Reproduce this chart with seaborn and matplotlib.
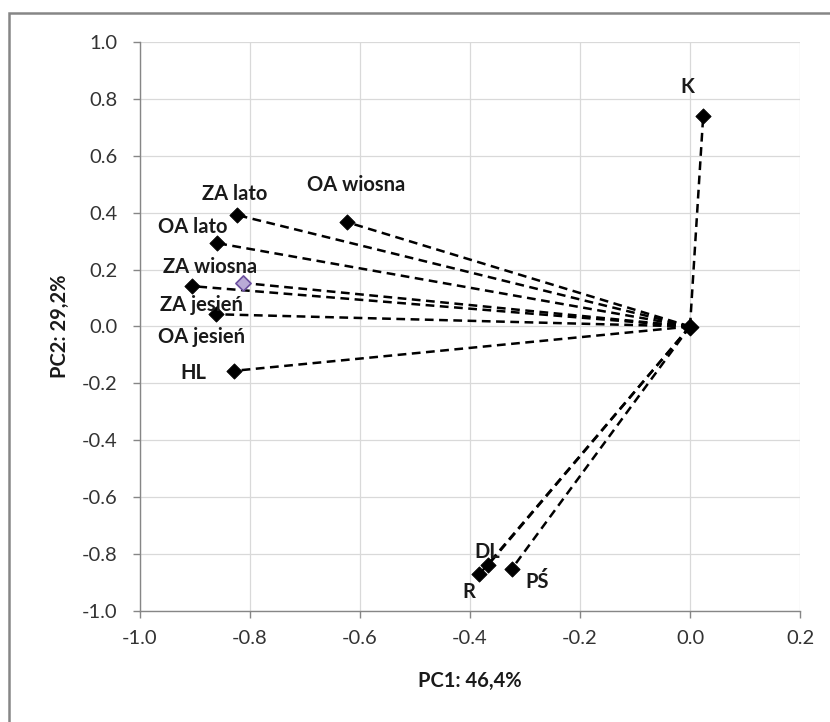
import matplotlib
matplotlib.use("Agg")
import matplotlib.pyplot as plt
import matplotlib.ticker as mticker
from matplotlib.patches import Rectangle
import pandas as pd
import seaborn as sns

# ------------------------------
# Loadings
# ------------------------------
labels = ["K", "OA wiosna", "ZA lato", "OA lato", "ZA wiosna", "ZA jesień",
          "OA jesień", "HL", "DL", "R", "PŚ"]
pc1 = [0.024, -0.624, -0.824, -0.860, -0.812, -0.906, -0.861, -0.830, -0.367, -0.383, -0.324]
pc2 = [0.740, 0.367, 0.392, 0.293, 0.153, 0.142, 0.043, -0.156, -0.838, -0.871, -0.852]

df = pd.DataFrame({"label": labels, "pc1": pc1, "pc2": pc2})

# label offsets in pixels (dx, dy)
offsets = {
    "K": (-16, 29), "OA wiosna": (9, 37), "ZA lato": (-2, 21), "OA lato": (-24, 16),
    "ZA wiosna": (-33, 16), "ZA jesień": (10, -19), "OA jesień": (-15, -23),
    "HL": (-40, -2), "DL": (-1, 13), "R": (-11, -18), "PŚ": (25, -13),
}

# ------------------------------
# Style
# ------------------------------
sns.set_theme(style="whitegrid")
plt.rcParams["font.family"] = ["Lato", "DejaVu Sans"]
plt.rcParams["axes.unicode_minus"] = False

fig = plt.figure(figsize=(8.3, 7.22), dpi=100)
ax = fig.add_axes([140 / 830, 1 - 611 / 722, 660 / 830, 569 / 722])
ax.set_facecolor("white")

# dashed lines from origin
for _, row in df.iterrows():
    ax.plot([0, row.pc1], [0, row.pc2], color="black", ls=(0, (3.5, 2.2)),
            lw=1.8, zorder=2)

# points
df["kind"] = ["sel" if l == "ZA wiosna" else "pt" for l in df.label]
sns.scatterplot(data=df[df.kind == "pt"], x="pc1", y="pc2", marker="D", s=60,
                color="black", edgecolor="black", ax=ax, zorder=3, legend=False)
sns.scatterplot(data=df[df.kind == "sel"], x="pc1", y="pc2", marker="D", s=60,
                color="#b9aad6", edgecolor="#6b4f9e", linewidth=1.2, ax=ax,
                zorder=3, legend=False)
ax.scatter([0], [0], marker="D", s=70, color="black", zorder=3)

for _, row in df.iterrows():
    dx, dy = offsets[row.label]
    ax.annotate(row.label, (row.pc1, row.pc2), xytext=(dx, dy),
                textcoords="offset pixels", ha="center", va="center",
                fontsize=14.5, fontweight="bold", color="#1a1a1a", zorder=4)

# ------------------------------
# Axes
# ------------------------------
ax.set_xlim(-1.0, 0.2)
ax.set_ylim(-1.0, 1.0)
ax.xaxis.set_major_locator(mticker.MultipleLocator(0.2))
ax.yaxis.set_major_locator(mticker.MultipleLocator(0.2))
ax.xaxis.set_major_formatter(mticker.FormatStrFormatter("%.1f"))
ax.yaxis.set_major_formatter(mticker.FormatStrFormatter("%.1f"))
ax.grid(True, color="#d9d9d9", lw=0.9)
for s in ["top", "right"]:
    ax.spines[s].set_visible(False)
for s in ["left", "bottom"]:
    ax.spines[s].set_visible(True)
    ax.spines[s].set_color("#868686")
    ax.spines[s].set_linewidth(1.0)
ax.tick_params(axis="both", which="major", direction="out", length=5, width=1,
               color="#868686", labelsize=14.5, labelcolor="#333333",
               bottom=True, left=True)
ax.tick_params(axis="y", pad=11)
ax.tick_params(axis="x", pad=9)
ax.set_xlabel("PC1: 46,4%", fontsize=14.5, fontweight="bold", color="#1a1a1a")
ax.set_ylabel("PC2: 29,2%", fontsize=14.5, fontweight="bold", color="#1a1a1a")
ax.xaxis.set_label_coords(0.5, -0.105)
ax.yaxis.set_label_coords(-0.106, 0.5)

# chart-area border (only top/left visible)
fig.patches.append(Rectangle((9 / 830, -0.1), 1.2, 1.1 - 13 / 722,
                             transform=fig.transFigure, fill=False,
                             edgecolor="#868686", lw=1.8, clip_on=False))

fig.savefig("out.png", dpi=100)
